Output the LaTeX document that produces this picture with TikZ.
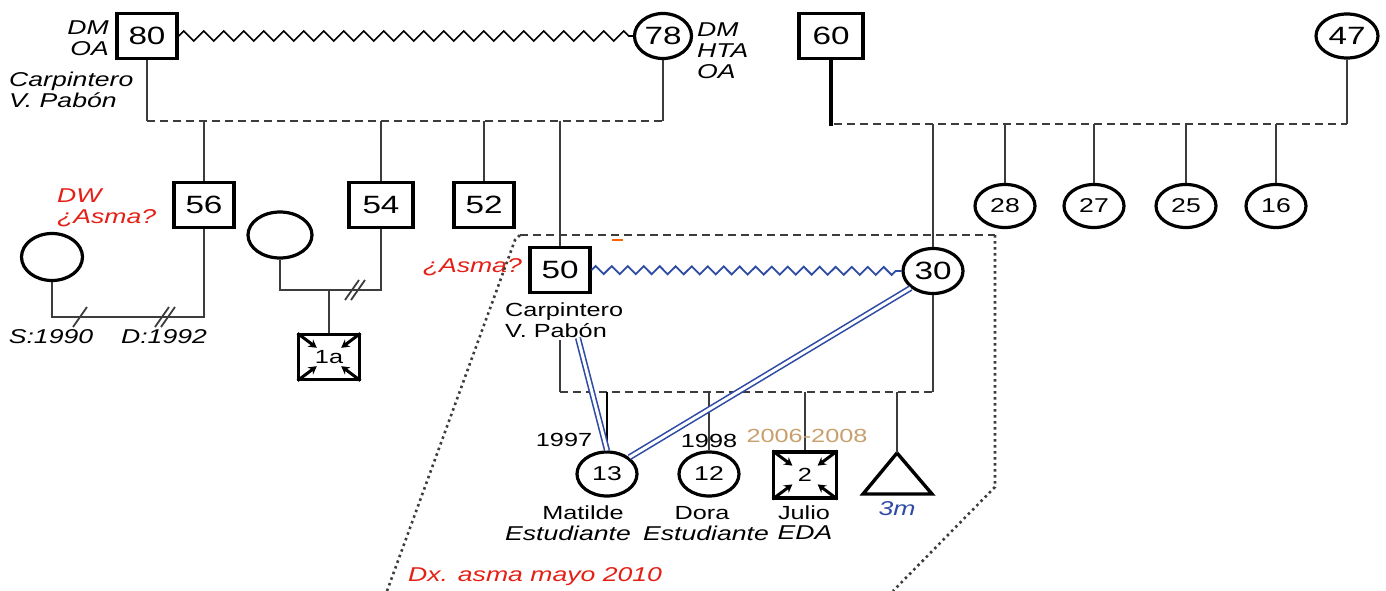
\documentclass[tikz,border=0pt]{standalone}
\usepackage{fontspec}
\setmainfont{Liberation Sans}[FakeStretch=1.33]
\usetikzlibrary{shapes.geometric,decorations.pathmorphing,calc,arrows.meta}
\definecolor{asmared}{RGB}{228,32,22}
\definecolor{linkblue}{RGB}{45,75,165}
\definecolor{yeartan}{RGB}{200,160,110}
\definecolor{linegray}{RGB}{60,60,60}
\newcommand\fbig{\fontsize{25}{30}\selectfont}
\newcommand\fmid{\fontsize{20}{24}\selectfont}
\newcommand\flab{\fontsize{19}{21}\selectfont}
\newcommand\fital{\fontsize{20}{21}\selectfont}
\begin{document}
\begin{tikzpicture}[x=1pt,y=-1pt,
  male/.style={draw, line width=3.4, minimum width=60, minimum height=45, inner sep=0, font=\fbig},
  female/.style={ellipse, draw, line width=3.2, minimum width=60, minimum height=45, inner sep=0, font=\fbig},
  kid/.style={female, font=\fmid, minimum height=44},
  rel/.style={line width=2.4, draw=linegray},
  sib/.style={line width=2.2, draw=linegray, dash pattern=on 8 off 5},
  lab/.style={font=\fital\itshape, inner sep=0, align=left},
  redlab/.style={lab, text=asmared},
  uplab/.style={font=\flab, inner sep=0},
  union/.style={decorate, decoration={zigzag, segment length=20, amplitude=5}, line width=1.6},
  bluezig/.style={decorate, decoration={zigzag, segment length=16, amplitude=4}, line width=1.8, draw=linkblue},
  bluelink/.style={draw=linkblue, double=white, double distance=3, line width=1.6},
  brk/.style={line width=1.8, draw=linegray},
  cornerarrow/.style={line width=3, -{Stealth[length=8,width=9]}},
  zone/.style={line width=2.6, draw=linegray, dash pattern=on 2.5 off 3.5},
  zonetop/.style={line width=2.2, draw=linegray, dash pattern=on 8 off 5}]
\useasboundingbox (0,0) rectangle (1386,591);

% ---------- first generation ----------
\node[male] (n80) at (147,36) {80};
\node[female, minimum width=57] (n78) at (663,36) {78};
\node[male, minimum width=64] (n60) at (831,36) {60};
\node[female, minimum width=62, minimum height=44] (n47) at (1347,36) {47};
\draw[union] (n80.east) -- (n78.west);

\node[lab, anchor=east, align=right] (t80) at (109,38) {DM\\OA};
\node[lab, anchor=west] (t80b) at (9,90) {Carpintero\\V. Pabón};
\node[lab, anchor=west] (t78) at (697,51) {DM\\HTA\\OA};

% sibship of 80 and 78
\coordinate (s1L) at (147,121);
\coordinate (s1R) at (663,121);
\draw[rel] (n80.south) -- (s1L);
\draw[rel] (n78.south) -- (s1R);
\draw[sib] (s1L) -- (s1R);

% sibship of 60 and 47
\coordinate (s2L) at (831,126);
\coordinate (s2R) at (1347,124);
\draw[line width=3.4] (n60.south) -- (s2L);
\draw[rel] (n47.south) -- (s2R);
\draw[sib] (834,124) -- (s2R);

% ---------- second generation ----------
\node[male] (n56) at (204,205) {56};
\node[male, minimum width=64] (n54) at (381,205) {54};
\node[male] (n52) at (484,205) {52};
\node[male] (n50) at (560,270) {50};
\node[female] (n30) at (933,271) {30};
\foreach \k/\x in {28/1005,27/1094,25/1186,16/1276}
  \node[kid, minimum height=43] (n\k) at (\x,206) {\k};

\foreach \n in {n56,n54,n52,n50}
  \draw[rel] (\n.north |- s1L) -- (\n.north);
\draw[rel] (n30.north |- s2R) -- (n30.north);
\foreach \n in {n28,n27,n25,n16}
  \draw[rel] (\n.north |- s2R) -- (\n.north);

% 56 and his former partner
\node[redlab, anchor=west] (t56) at (57,208) {DW\\¿Asma?};
\node[female, minimum width=61, minimum height=47] (w56) at (52,257) {};
\coordinate (m56L) at (52,317);
\coordinate (m56R) at (204,317);
\draw[rel] (w56.south) -- (m56L) -- (m56R) -- (n56.south);
\draw[brk] (73,327) -- (87,307);
\draw[brk] (155,327) -- (169,307);
\draw[brk] (161,327) -- (175,307);
\node[lab] (tS) at (51,337) {S:1990};
\node[lab] (tD) at (164,337) {D:1992};

% 54 and his partner
\node[female, minimum width=64, minimum height=46] (w54) at (280,235) {};
\coordinate (m54L) at (280,290);
\coordinate (m54R) at (381,290);
\draw[rel] (w54.south) -- (m54L) -- (m54R) -- (n54.south);
\draw[brk] (345,300) -- (359,280);
\draw[brk] (351,300) -- (365,280);
\node[male, minimum width=61, font=\flab] (b1a) at (329,357) {1a};
\draw[rel] (b1a.north |- m54L) -- (b1a.north);
\foreach \a in {north west,north east,south west,south east}
  \draw[cornerarrow, shorten <=1] (b1a.\a) -- ($(b1a.\a)!0.62!(b1a.center)$);

% ---------- index family ----------
\draw[bluezig] (n50.east) -- (n30.west);
\node[redlab, anchor=east] (t50) at (522,267) {¿Asma?};
\node[uplab, align=left, anchor=west] (t50b) at (505,320) {Carpintero\\V. Pabón};
\draw[line width=1.6, draw=orange!80!red] (612,240) -- (623,240);

\coordinate (s3L) at (560,392);
\coordinate (s3R) at (n30.south |- s3L);
\draw[rel] (560,340) -- (s3L);
\draw[rel] (n30.south) -- (s3R);
\draw[sib] (s3L) -- (s3R);

\node[kid] (n13) at (607,474) {13};
\node[kid] (n12) at (709,474) {12};
\node[male, minimum width=63, minimum height=46, font=\flab] (b2) at (805,475) {2};
\foreach \a in {north west,north east,south west,south east}
  \draw[cornerarrow, shorten <=1] (b2.\a) -- ($(b2.\a)!0.62!(b2.center)$);
\coordinate (tri) at (897,453);
\draw[line width=3.4, line join=miter] (tri) -- (932,494) -- (863,494) -- cycle;

\draw[line width=2.8] (n13.north |- s3L) -- (n13.north);
\draw[rel] (n12.north |- s3L) -- (n12.north);
\draw[rel] (b2.north |- s3L) -- (b2.north);
\draw[rel] (tri |- s3L) -- (tri);

% close relations of the eldest daughter
\coordinate (p50) at (578,338);
\draw[bluelink] (p50) -- (n13.north);
\draw[bluelink] (n30.south west) -- (n13.north east);

\node[uplab] (y97) at (564,440) {1997};
\node[uplab] (y98) at (709,441) {1998};
\node[uplab, text=yeartan] (y06) at (807,436) {2006-2008};

\node[uplab] (l13a) at (583,513) {Matilde};
\node[lab] (l13b) at (568,533) {Estudiante};
\node[uplab] (l12a) at (702,513) {Dora};
\node[lab] (l12b) at (706,533) {Estudiante};
\node[uplab] (l2a) at (804,513) {Julio};
\node[lab] (l2b) at (805,533) {EDA};
\node[lab, text=linkblue] (ltri) at (897,509) {3m};

% household boundary
\draw[zonetop] (520,235) -- (995,235);
\draw[zone] (387,591) -- (515,240) -- (520,235);
\draw[zone] (995,235) -- (995,487) -- (893,591);
\node[redlab, anchor=west] (tdx) at (408,577) {Dx. asma mayo 2010};
\end{tikzpicture}
\end{document}
